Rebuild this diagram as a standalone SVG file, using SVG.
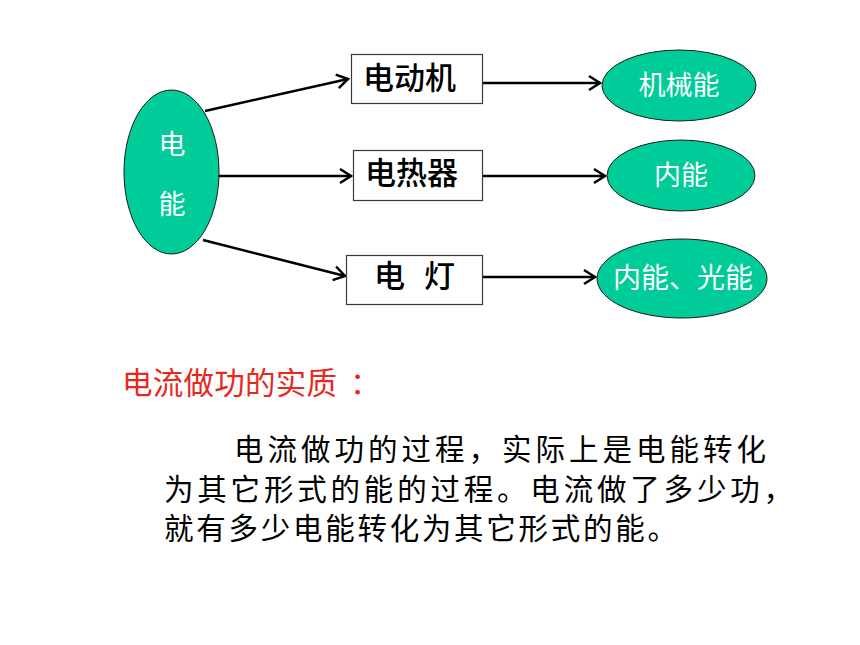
<svg xmlns="http://www.w3.org/2000/svg" width="860" height="645" viewBox="0 0 860 645">
<style>
.bg{fill:#ffffff}
.oval{fill:#00cc99;stroke:#1a1a1a;stroke-width:1}
.box{fill:#ffffff;stroke:#3a3a3a;stroke-width:1.2}
.conn{stroke:#000;stroke-width:2.5;fill:none}
.wt{font-family:"Noto Sans CJK SC","Noto Sans",sans-serif;fill:#ffffff;font-size:27px;text-anchor:middle}
.bt{font-family:"Noto Sans CJK SC","Noto Sans",sans-serif;fill:#000;font-size:31px;font-weight:500}
.title{font-family:"Noto Sans CJK SC","Noto Sans",sans-serif;fill:#e8281e;font-size:30.5px}
.body{font-family:"Noto Sans CJK SC","Noto Sans",sans-serif;fill:#000;font-size:29.5px}
</style>
<defs>
<marker id="arr" markerUnits="userSpaceOnUse" markerWidth="16" markerHeight="16" viewBox="-1 -1 14 16" refX="11" refY="7" orient="auto" overflow="visible">
<path d="M0,0 L11,7 L0,14" fill="none" stroke="#000" stroke-width="2.5"/>
</marker>
</defs>
<rect class="bg" x="0" y="0" width="860" height="645"/>
<g id="connectors">
<line class="conn" x1="205" y1="111" x2="348" y2="79" marker-end="url(#arr)"/>
<line class="conn" x1="217" y1="176" x2="351" y2="176" marker-end="url(#arr)"/>
<line class="conn" x1="203" y1="240" x2="345" y2="276" marker-end="url(#arr)"/>
<line class="conn" x1="483" y1="83" x2="600" y2="83" marker-end="url(#arr)"/>
<line class="conn" x1="483" y1="176" x2="605" y2="176" marker-end="url(#arr)"/>
<line class="conn" x1="483" y1="277" x2="595" y2="277" marker-end="url(#arr)"/>
</g>
<g id="n-dianneng">
<ellipse class="oval" cx="171.5" cy="172" rx="47.5" ry="82"/>
<text class="wt" x="172" y="154">电</text>
<text class="wt" x="172" y="214">能</text>
</g>
<g id="n-motor">
<rect class="box" x="351.5" y="54.5" width="131" height="49"/>
<text class="bt" x="363" y="89">电动机</text>
</g>
<g id="n-heater">
<rect class="box" x="353.5" y="150.5" width="129" height="50"/>
<text class="bt" x="365" y="184">电热器</text>
</g>
<g id="n-lamp">
<rect class="box" x="346.5" y="255.5" width="136" height="49"/>
<text class="bt" y="287"><tspan x="374">电</tspan><tspan x="424">灯</tspan></text>
</g>
<g id="n-jixie">
<ellipse class="oval" cx="679" cy="85.5" rx="77" ry="35.5"/>
<text class="wt" x="679" y="95">机械能</text>
</g>
<g id="n-neineng">
<ellipse class="oval" cx="681" cy="175.5" rx="74" ry="35.5"/>
<text class="wt" x="681" y="185">内能</text>
</g>
<g id="n-guang">
<ellipse class="oval" cx="682" cy="278.5" rx="85" ry="39.5"/>
<text class="wt" x="683" y="288" style="font-size:28px">内能、光能</text>
</g>
<g id="text-block">
<text class="title" y="394"><tspan x="122" textLength="215" lengthAdjust="spacing">电流做功的实质</tspan><tspan x="350">：</tspan></text>
<text class="body" x="234" y="460" textLength="532" lengthAdjust="spacing">电流做功的过程，实际上是电能转化</text>
<text class="body" x="164" y="500" textLength="629" lengthAdjust="spacing">为其它形式的能的过程。电流做了多少功，</text>
<text class="body" x="164" y="539" textLength="513" lengthAdjust="spacing">就有多少电能转化为其它形式的能。</text>
</g>
</svg>
